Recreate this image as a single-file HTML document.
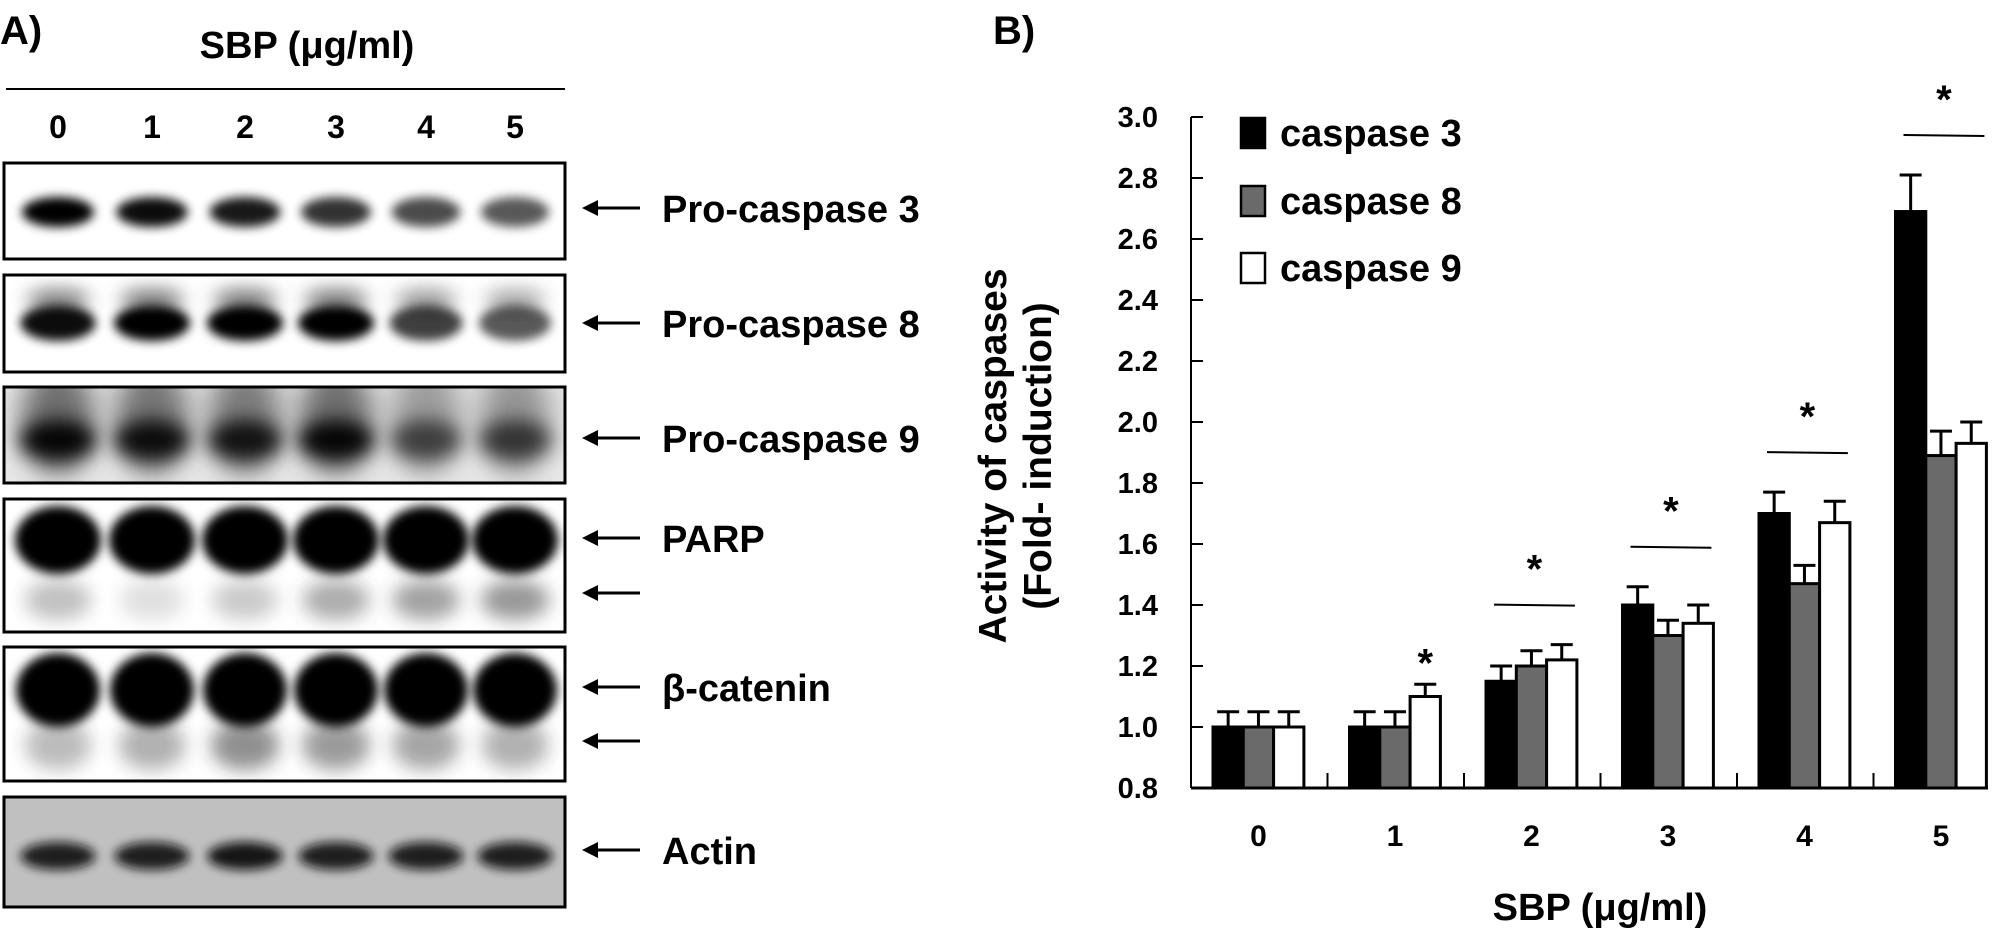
<!DOCTYPE html>
<html><head><meta charset="utf-8">
<style>
html,body{margin:0;padding:0;background:#fff;}
svg{display:block;font-family:"Liberation Sans",Arial,sans-serif;font-weight:bold;}
</style></head>
<body>
<svg id="fig" width="2008" height="928" viewBox="0 0 2008 928">
<defs>
<filter id="b4" x="-50%" y="-50%" width="200%" height="200%"><feGaussianBlur stdDeviation="5"/></filter>
<filter id="b8" x="-50%" y="-50%" width="200%" height="200%"><feGaussianBlur stdDeviation="9"/></filter>
<filter id="b14" x="-50%" y="-50%" width="200%" height="200%"><feGaussianBlur stdDeviation="14"/></filter>
<clipPath id="c1"><rect x="4" y="163" width="561" height="96"/></clipPath>
<clipPath id="c2"><rect x="4" y="275" width="561" height="97"/></clipPath>
<clipPath id="c3"><rect x="4" y="387" width="561" height="96"/></clipPath>
<clipPath id="c4"><rect x="4" y="499" width="561" height="133"/></clipPath>
<clipPath id="c5"><rect x="4" y="647" width="561" height="134"/></clipPath>
<clipPath id="c6"><rect x="4" y="797" width="561" height="110"/></clipPath>
</defs>
<g id="panelA"></g>
<g id="panelB"></g>
</svg>
<script>
// ---- Chart data ----
const categories = ["0","1","2","3","4","5"];
const casp3 = [1.00, 1.00, 1.15, 1.40, 1.70, 2.69];
const casp3Err = [0.05, 0.05, 0.05, 0.06, 0.07, 0.12];
const casp8 = [1.00, 1.00, 1.20, 1.30, 1.47, 1.89];
const casp8Err = [0.05, 0.05, 0.05, 0.05, 0.06, 0.08];
const casp9 = [1.00, 1.10, 1.22, 1.34, 1.67, 1.93];
const casp9Err = [0.05, 0.04, 0.05, 0.06, 0.07, 0.07];
const yTicks = ["0.8","1.0","1.2","1.4","1.6","1.8","2.0","2.2","2.4","2.6","2.8","3.0"];
const seriesNames = ["caspase 3","caspase 8","caspase 9"];
const sigSingle = [false, true, false, false, false, false];
const sigGroup = [false, false, true, true, true, true];
// blot lane labels and relative band intensities
const lanes = ["0","1","2","3","4","5"];
const bandPro3 = [1.0, 0.95, 0.9, 0.8, 0.7, 0.65];
const bandPro8 = [0.95, 1.0, 1.0, 1.0, 0.75, 0.65];
const bandPro9 = [0.95, 0.9, 0.85, 0.95, 0.6, 0.65];
const bandParp = [1.0, 1.0, 1.0, 1.0, 1.0, 1.0];
const bandParpCleaved = [0.3, 0.15, 0.25, 0.4, 0.45, 0.5];
const bandCat = [1.0, 1.0, 1.0, 1.0, 1.0, 1.0];
const bandCatLow = [0.3, 0.35, 0.5, 0.45, 0.4, 0.35];
const bandActin = [0.9, 0.9, 0.95, 0.9, 0.9, 0.9];

const NS="http://www.w3.org/2000/svg";
function mk(tag, attrs, parent, text){
  const e=document.createElementNS(NS,tag);
  for(const k in attrs) e.setAttribute(k, attrs[k]);
  if(text!==undefined) e.textContent=text;
  parent.appendChild(e); return e;
}
// ---------- Panel B ----------
const B=document.getElementById('panelB');
const x0=1191, xEnd=1988, yTop=117, yBot=788, vMin=0.8, vMax=3.0;
function yS(v){return yBot-(v-vMin)/(vMax-vMin)*(yBot-yTop);}
const groupStart=1213, groupStep=136.5, barW=30.3;
function xBar(i,s){return groupStart+i*groupStep+s*barW;}

let t=mk('text',{x:993,y:44,'font-size':40},B,'B)');



let ax=mk('line',{x1:x0,y1:yTop,x2:x0,y2:yBot,stroke:'#000','stroke-width':2},B);


let xa=mk('line',{x1:x0,y1:yBot,x2:xEnd,y2:yBot,stroke:'#000','stroke-width':3},B);



yTicks.forEach(function(lbl){
  const v=parseFloat(lbl), y=yS(v);
  const tk=mk('line',{x1:x0,y1:y,x2:x0+12,y2:y,stroke:'#000','stroke-width':2},B);
  
  
  const tl=mk('text',{x:1158,y:y+10,'font-size':29,'text-anchor':'end'},B,lbl);
  
  
});
categories.forEach(function(c,i){
  const cx=groupStart+i*groupStep+1.5*barW;
  const tl=mk('text',{x:cx,y:846,'font-size':30,'text-anchor':'middle'},B,c);
  
  
  if(i>0){
    const sx=groupStart+i*groupStep-22;
    const tk=mk('line',{x1:sx,y1:yBot,x2:sx,y2:yBot-15,stroke:'#000','stroke-width':2},B);
    
    
  }
});
const series=[[casp3,casp3Err,'#000'],[casp8,casp8Err,'#6a6a6a'],[casp9,casp9Err,'#fff']];
series.forEach(function(sr,s){
  sr[0].forEach(function(v,i){
    const x=xBar(i,s), y=yS(v);
    const r=mk('rect',{x:x,y:y,width:barW,height:yBot-y,fill:sr[2],stroke:'#000','stroke-width':3},B);
    
    
    const ye=yS(v+sr[1][i]), cx=x+barW/2;
    const e1=mk('line',{x1:cx,y1:y,x2:cx,y2:ye,stroke:'#000','stroke-width':3},B);
    
    
    const e2=mk('line',{x1:cx-11,y1:ye,x2:cx+11,y2:ye,stroke:'#000','stroke-width':3},B);
    
    
  });
});
categories.forEach(function(c,i){
  if(sigSingle[i]){
    const x=xBar(i,2)+barW/2, y=yS(casp9[i]+casp9Err[i])-22;
    const st=mk('text',{x:x,y:y+14,'font-size':40,'text-anchor':'middle'},B,'*');
    
    
  }
  if(sigGroup[i]){
    const mx=Math.max(casp3[i]+casp3Err[i],casp8[i]+casp8Err[i],casp9[i]+casp9Err[i]);
    const ly=yS(mx)-40, gx=groupStart+i*groupStep;
    const ln=mk('line',{x1:gx+8,y1:ly,x2:gx+3*barW-2,y2:ly+1,stroke:'#000','stroke-width':2},B);
    
    
    const st=mk('text',{x:gx+1.5*barW+3,y:ly-22,'font-size':40,'text-anchor':'middle'},B,'*');
    
    
  }
});
const legCols=['#000','#6a6a6a','#fff'], legY=[133,201,268];
seriesNames.forEach(function(n,s){
  const g=mk('g',{},B);
  
  
  mk('rect',{x:1241,y:legY[s]-15,width:24,height:30,fill:legCols[s],stroke:'#000','stroke-width':2.5},g);
  mk('text',{x:1280,y:legY[s]+13,'font-size':38},g,n);
});
let yt=mk('text',{transform:'translate(1006,456) rotate(-90)','font-size':39,'text-anchor':'middle'},B);


mk('tspan',{x:0,y:0},yt,'Activity of caspases');
mk('tspan',{x:0,y:45},yt,'(Fold- induction)');
let xt=mk('text',{x:1600,y:920,'font-size':38,'text-anchor':'middle'},B,'SBP (\u03bcg/ml)');



// ---------- Panel A ----------
const A=document.getElementById('panelA');
let al=mk('text',{x:0,y:44,'font-size':40},A,'A)');


let ah=mk('text',{x:307,y:58,'font-size':38,'text-anchor':'middle'},A,'SBP (\u03bcg/ml)');


let hl=mk('line',{x1:6,y1:89,x2:565,y2:89,stroke:'#000','stroke-width':2},A);


const laneX=[58,152,245,336,426,515];
lanes.forEach(function(l,i){
  const tl=mk('text',{x:laneX[i],y:138,'font-size':32,'text-anchor':'middle'},A,l);
  
  
});
const boxes=[
 {y:163,h:96,bg:'#fff',clip:'c1',name:'pro-caspase-3-blot'},
 {y:275,h:97,bg:'#fff',clip:'c2',name:'pro-caspase-8-blot'},
 {y:387,h:96,bg:'#e8e8e8',clip:'c3',name:'pro-caspase-9-blot'},
 {y:499,h:133,bg:'#fff',clip:'c4',name:'parp-blot'},
 {y:647,h:134,bg:'#fff',clip:'c5',name:'beta-catenin-blot'},
 {y:797,h:110,bg:'#c0c0c0',clip:'c6',name:'actin-blot'}];
function bands(g,arr,cy,w,h,blur,base){
  arr.forEach(function(a,i){
    const e=mk('ellipse',{cx:laneX[i],cy:cy,rx:w*(0.85+0.15*a)/2,ry:h/2,fill:base,opacity:Math.min(1,a),filter:'url(#'+blur+')'},g);
    
    
  });
}
boxes.forEach(function(b,k){
  const g=mk('g',{'clip-path':'url(#'+b.clip+')'},A);
  
  
  mk('rect',{x:4,y:b.y,width:561,height:b.h,fill:b.bg},g);
  if(k===0){bands(g,bandPro3,212,72,30,'b4','#000');}
  if(k===1){bands(g,bandPro8,300,64,22,'b8','#777');bands(g,bandPro8,323,76,36,'b4','#000');}
  if(k===2){bands(g,bandPro9,420,76,110,'b14','#666');bands(g,bandPro9,440,76,40,'b8','#000');}
  if(k===3){bands(g,bandParpCleaved,600,74,40,'b8','#333');bands(g,bandParp,540,86,68,'b4','#000');}
  if(k===4){bands(g,bandCatLow,745,74,50,'b8','#222');bands(g,bandCat,690,84,74,'b4','#000');}
  if(k===5){bands(g,bandActin,856,76,28,'b4','#111');}
  const r=mk('rect',{x:4,y:b.y,width:561,height:b.h,fill:'none',stroke:'#000','stroke-width':3},A);
  
  
});
const labels=[['Pro-caspase 3',208],['Pro-caspase 8',323],['Pro-caspase 9',438],['PARP',538],['',593],['\u03b2-catenin',687],['',741],['Actin',850]];
labels.forEach(function(L){
  const y=L[1];
  const g=mk('g',{},A);
  
  
  mk('line',{x1:592,y1:y,x2:640,y2:y,stroke:'#000','stroke-width':3},g);
  mk('polygon',{points:(582)+','+y+' '+(598)+','+(y-8)+' '+(598)+','+(y+8),fill:'#000'},g);
  if(L[0]){
    const tl=mk('text',{x:662,y:y+14,'font-size':38},A,L[0]);
    
    
  }
});
</script>
</body></html>
